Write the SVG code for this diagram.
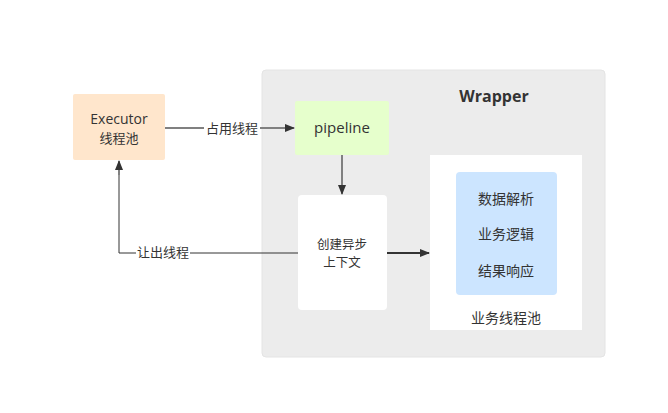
<svg xmlns="http://www.w3.org/2000/svg" width="668" height="413" viewBox="0 0 668 413">
<defs>
<marker id="ah" markerWidth="10" markerHeight="8" refX="9" refY="4" orient="auto" markerUnits="userSpaceOnUse">
<path d="M0,0 L10,4 L0,8 Z" fill="#333"/>
</marker>
<style>
text{font-family:"Noto Sans CJK SC","Microsoft YaHei",sans-serif;fill:#333;font-size:13px;text-anchor:middle;}
.ln{fill:none;stroke:#808080;stroke-width:2;}
.dk{fill:none;stroke:#333;stroke-width:2;}
.b{font-size:14px;}
</style>
</defs>
<rect width="668" height="413" fill="#fff"/>
<g id="wrapper">
<rect x="262" y="70" width="343" height="287" rx="4" fill="#ececec" stroke="#e4e4e4"/>
<text x="494" y="102" style="font-family:'Open Sans','Liberation Sans',sans-serif;font-weight:bold;font-size:16px">Wrapper</text>
</g>
<g id="executor">
<rect x="73" y="94" width="92" height="66" rx="2" fill="#ffe6cc"/>
<text x="119" y="124" style="font-family:'Open Sans','Noto Sans CJK SC',sans-serif;font-size:14px">Executor</text>
<text x="119" y="143">线程池</text>
</g>
<g id="pipeline">
<rect x="295" y="101" width="94" height="54" rx="2" fill="#e6ffcc"/>
<text x="342" y="133" style="font-family:'Open Sans','Liberation Sans',sans-serif;font-size:15px">pipeline</text>
</g>
<g id="async">
<rect x="298" y="195" width="89" height="115" rx="4" fill="#fff"/>
<text x="342" y="249" style="font-size:12.5px">创建异步</text>
<text x="342" y="267" style="font-size:12.5px">上下文</text>
</g>
<g id="pool">
<rect x="430" y="155" width="152" height="175" fill="#fff"/>
<rect x="456" y="172" width="101" height="123" rx="4" fill="#cce5ff"/>
<text class="b" x="506" y="204">数据解析</text>
<text class="b" x="506" y="239">业务逻辑</text>
<text class="b" x="506" y="276">结果响应</text>
<text class="b" x="506" y="323">业务线程池</text>
</g>
<g id="connectors">
<path class="ln" d="M165,128 H294" marker-end="url(#ah)"/>
<rect x="204" y="120" width="56" height="16" fill="#fff"/>
<text x="232" y="133">占用线程</text>
<path class="ln" d="M342,155 V194" marker-end="url(#ah)"/>
<path class="dk" d="M387,253 H429" marker-end="url(#ah)"/>
<path d="M298,253 H119 V161" fill="none" stroke="#333" stroke-width="1"/>
<path d="M119,175 V161" class="ln" marker-end="url(#ah)"/>
<rect x="136" y="245" width="54" height="16" fill="#fff"/>
<text x="163" y="257">让出线程</text>
</g>
</svg>
